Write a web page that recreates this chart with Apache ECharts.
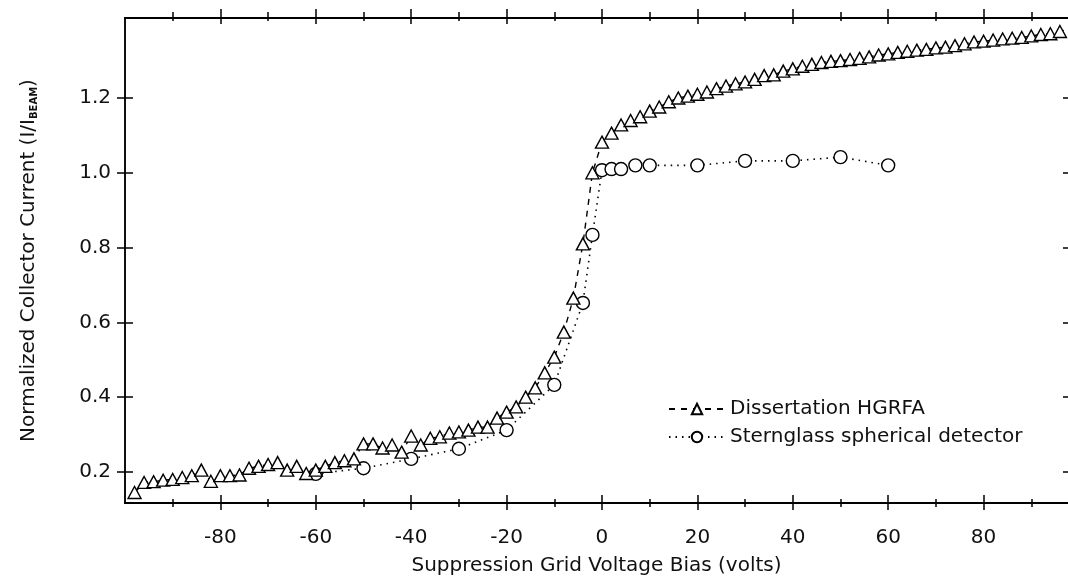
<!DOCTYPE html>
<html>
<head>
<meta charset="utf-8">
<script src="https://cdn.jsdelivr.net/npm/echarts@6/dist/echarts.min.js"></script>
<style>
  html, body { margin: 0; padding: 0; background: #fff; }
  #chart { width: 1068px; height: 587px; }
</style>
</head>
<body>
<div id="chart"></div>
<script>
// Data
const hgrfaVolts = [
  -98, -96, -94, -92, -90, -88, -86, -84, -82, -80,
  -78, -76, -74, -72, -70, -68, -66, -64, -62, -60,
  -58, -56, -54, -52, -50, -48, -46, -44, -42, -40,
  -38, -36, -34, -32, -30, -28, -26, -24, -22, -20,
  -18, -16, -14, -12, -10, -8, -6, -4, -2, 0,
  2, 4, 6, 8, 10, 12, 14, 16, 18, 20,
  22, 24, 26, 28, 30, 32, 34, 36, 38, 40,
  42, 44, 46, 48, 50, 52, 54, 56, 58, 60,
  62, 64, 66, 68, 70, 72, 74, 76, 78, 80,
  82, 84, 86, 88, 90, 92, 94, 96, 98
];
const hgrfaCurrent = [
  0.145, 0.172, 0.174, 0.178, 0.180, 0.185, 0.190, 0.205, 0.175, 0.190,
  0.190, 0.192, 0.210, 0.215, 0.220, 0.225, 0.205, 0.215, 0.196, 0.205,
  0.215, 0.225, 0.230, 0.235, 0.275, 0.275, 0.264, 0.272, 0.253, 0.296,
  0.272, 0.290, 0.294, 0.304, 0.307, 0.312, 0.320, 0.320, 0.344, 0.360,
  0.374, 0.400, 0.425, 0.465, 0.507, 0.574, 0.665, 0.810, 1.000, 1.082,
  1.106, 1.128, 1.140, 1.150, 1.165, 1.176, 1.190, 1.200, 1.205, 1.210,
  1.216, 1.225, 1.232, 1.238, 1.243, 1.250, 1.260, 1.262, 1.272, 1.278,
  1.285, 1.290, 1.295, 1.298, 1.300, 1.303, 1.306, 1.310, 1.315, 1.318,
  1.322, 1.325, 1.328, 1.330, 1.334, 1.336, 1.340, 1.345, 1.350, 1.352,
  1.355, 1.358, 1.360, 1.362, 1.366, 1.370, 1.372, 1.378, 1.385
];
const sternVolts = [-60, -50, -40, -30, -20, -10, -4, -2, 0, 2, 4, 7, 10, 20, 30, 40, 50, 60];
const sternCurrent = [0.195, 0.210, 0.235, 0.262, 0.312, 0.433, 0.652, 0.834, 1.007, 1.010, 1.010, 1.020, 1.020, 1.020, 1.032, 1.032, 1.042, 1.020];

const xLabelValues = [-80, -60, -40, -20, 0, 20, 40, 60, 80];
const xMinorValues = [-90, -70, -50, -30, -10, 10, 30, 50, 70, 90];
const yTickValues = [0.2, 0.4, 0.6, 0.8, 1.0, 1.2];

const FONT = 'DejaVu Sans';
const FONT_SIZE = 20;

const hgrfaData = hgrfaVolts.map((v, i) => [v, hgrfaCurrent[i]]);
const sternData = sternVolts.map((v, i) => [v, sternCurrent[i]]);

// one x axis per tick set / side / direction, so ticks can cross the frame
function xAxisPart(position, inside, length, values, extra) {
  return Object.assign({
    type: 'value',
    position: position,
    min: -100,
    max: 97.7,
    splitLine: { show: false },
    axisLine: { show: true, onZero: false, lineStyle: { color: '#000', width: 1.5 } },
    axisTick: { show: true, inside: inside, length: length, customValues: values, lineStyle: { color: '#000', width: 1.5 } },
    axisLabel: { show: false },
  }, extra || {});
}
function yAxisPart(position, inside, length, extra) {
  return Object.assign({
    type: 'value',
    position: position,
    min: 0.117,
    max: 1.414,
    splitLine: { show: false },
    axisLine: { show: true, onZero: false, lineStyle: { color: '#000', width: 1.5 } },
    axisTick: { show: true, inside: inside, length: length, customValues: yTickValues, lineStyle: { color: '#000', width: 1.5 } },
    axisLabel: { show: false },
  }, extra || {});
}

var chart = echarts.init(document.getElementById('chart'), null, { renderer: 'canvas' });

chart.setOption({
  backgroundColor: '#fff',
  animation: false,
  textStyle: { fontFamily: FONT },
  grid: { left: 125, top: 18, right: 0, bottom: 84 },
  legend: {
    orient: 'vertical',
    left: 663,
    top: 394,
    itemWidth: 56,
    itemHeight: 13,
    itemGap: 8,
    textStyle: { fontFamily: FONT, fontSize: FONT_SIZE, color: '#111' },
    data: ['Dissertation HGRFA', 'Sternglass spherical detector'],
  },
  xAxis: [
    xAxisPart('bottom', false, 7, xLabelValues, {
      name: 'Suppression Grid Voltage Bias (volts)',
      nameLocation: 'middle',
      nameGap: 53,
      nameTextStyle: { fontFamily: FONT, fontSize: FONT_SIZE, color: '#111' },
      axisLabel: {
        show: true,
        customValues: xLabelValues,
        margin: 25,
        fontFamily: FONT,
        fontSize: FONT_SIZE,
        color: '#111',
      },
    }),
    xAxisPart('bottom', true, 8, xLabelValues),
    xAxisPart('bottom', false, 4, xMinorValues),
    xAxisPart('bottom', true, 4, xMinorValues),
    xAxisPart('top', false, 9, xLabelValues),
    xAxisPart('top', true, 6, xLabelValues),
    xAxisPart('top', false, 6, xMinorValues),
    xAxisPart('top', true, 3, xMinorValues),
  ],
  yAxis: [
    yAxisPart('left', false, 8, {
      name: 'Normalized Collector Current (I/I{sub|BEAM})',
      nameLocation: 'middle',
      nameGap: 86,
      nameTextStyle: {
        fontFamily: FONT,
        fontSize: FONT_SIZE,
        color: '#111',
        rich: { sub: { fontSize: 10, fontWeight: 'bold', color: '#111', verticalAlign: 'bottom', padding: [9, 0, 0, 0] } },
      },
      axisLabel: { show: true, customValues: yTickValues, margin: 14, fontFamily: FONT, fontSize: FONT_SIZE, color: '#111', formatter: (v) => v.toFixed(1) },
    }),
    yAxisPart('left', true, 8),
    yAxisPart('right', true, 5, { axisLine: { show: false, onZero: false } }),
  ],
  series: [
    {
      name: 'Dissertation HGRFA',
      type: 'line',
      data: hgrfaData,
      symbol: 'triangle',
      symbolSize: [13, 12],
      showAllSymbol: true,
      itemStyle: { color: '#fff', borderColor: '#000', borderWidth: 1.4 },
      lineStyle: { color: '#000', width: 1.4, type: [6, 6] },
      z: 3,
    },
    {
      name: 'Sternglass spherical detector',
      type: 'line',
      data: sternData,
      symbol: 'circle',
      symbolSize: 13,
      showAllSymbol: true,
      itemStyle: { color: '#fff', borderColor: '#000', borderWidth: 1.4 },
      lineStyle: { color: '#000', width: 1.6, type: [1.5, 5] },
      z: 2,
    },
  ],
});
</script>
</body>
</html>
